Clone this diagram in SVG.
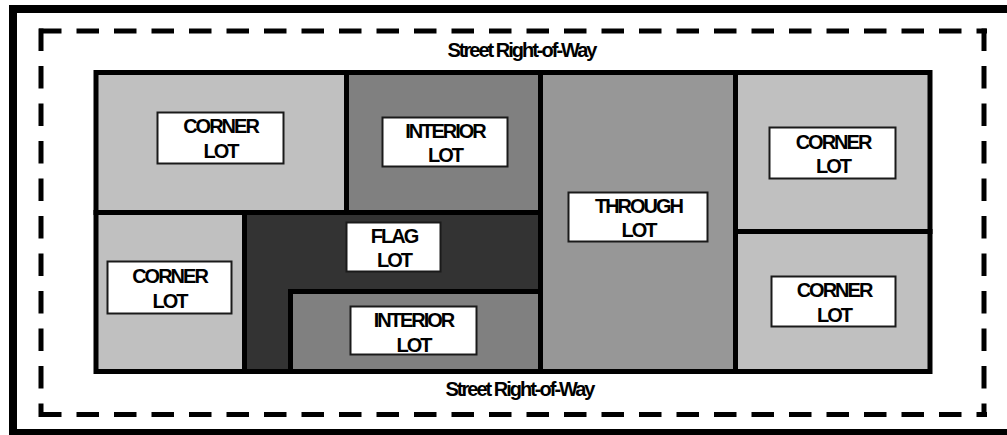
<svg xmlns="http://www.w3.org/2000/svg" width="1007" height="435" viewBox="0 0 1007 435">
<style>
.lot{stroke:#000;stroke-width:5;stroke-linejoin:miter}
.corner{fill:#c0c0c0}
.interior{fill:#808080}
.through{fill:#979797}
.flag{fill:#333333}
.box{fill:#fff;stroke:#1a1a1a;stroke-width:2}
.lbl{font-family:"Liberation Sans",Arial,sans-serif;font-weight:bold;font-size:20px;letter-spacing:-2px;fill:#000;text-anchor:middle}
.dash{stroke:#000;stroke-width:5;fill:none;stroke-dasharray:22.5 15}
</style>
<rect x="0" y="0" width="1007" height="435" fill="#fff"/>
<rect x="13" y="9" width="1010" height="424" fill="none" stroke="#000" stroke-width="8"/>
<g id="right-of-way">
<line class="dash" x1="39" y1="31" x2="987" y2="31"/>
<line class="dash" x1="39" y1="414.5" x2="987" y2="414.5"/>
<line class="dash" x1="41" y1="28.5" x2="41" y2="417"/>
<line class="dash" x1="984" y1="28.5" x2="984" y2="417"/>
<text class="lbl" x="521.5" y="56.5">Street Right-of-Way</text>
<text class="lbl" x="519.5" y="396">Street Right-of-Way</text>
</g>
<g id="lot-corner-tl">
<rect class="lot corner" x="96" y="72.5" width="250.5" height="140"/>
<rect class="box" x="157.5" y="112.5" width="126" height="51"/>
<text class="lbl" x="220.5" y="133">CORNER</text>
<text class="lbl" x="220.5" y="158">LOT</text>
</g>
<g id="lot-interior-top">
<rect class="lot interior" x="346.5" y="72.5" width="194" height="140"/>
<rect class="box" x="382.5" y="117.5" width="125" height="49"/>
<text class="lbl" x="445" y="138">INTERIOR</text>
<text class="lbl" x="445" y="162">LOT</text>
</g>
<g id="lot-through">
<rect class="lot through" x="540.5" y="72.5" width="195" height="299"/>
<rect class="box" x="568.5" y="192.5" width="139" height="49"/>
<text class="lbl" x="638.5" y="213">THROUGH</text>
<text class="lbl" x="638.5" y="237">LOT</text>
</g>
<g id="lot-corner-tr">
<rect class="lot corner" x="735.5" y="72.5" width="194.5" height="159"/>
<rect class="box" x="769.5" y="127.5" width="126" height="51"/>
<text class="lbl" x="833" y="149">CORNER</text>
<text class="lbl" x="833" y="173">LOT</text>
</g>
<g id="lot-corner-br">
<rect class="lot corner" x="735.5" y="231.5" width="194.5" height="140"/>
<rect class="box" x="771.5" y="276.5" width="124" height="50"/>
<text class="lbl" x="834" y="297">CORNER</text>
<text class="lbl" x="834" y="322">LOT</text>
</g>
<g id="lot-corner-bl">
<rect class="lot corner" x="96" y="212.5" width="148.5" height="159"/>
<rect class="box" x="107.5" y="261.5" width="124" height="52"/>
<text class="lbl" x="169.5" y="283">CORNER</text>
<text class="lbl" x="169.5" y="308">LOT</text>
</g>
<g id="lot-flag">
<polygon class="lot flag" points="244.5,212.5 540.5,212.5 540.5,291.5 290.5,291.5 290.5,371.5 244.5,371.5"/>
<rect class="box" x="346.5" y="222.5" width="94" height="49"/>
<text class="lbl" x="394" y="243">FLAG</text>
<text class="lbl" x="394" y="267">LOT</text>
</g>
<g id="lot-interior-bottom">
<rect class="lot interior" x="290.5" y="291.5" width="250" height="80"/>
<rect class="box" x="350.5" y="306.5" width="126" height="48"/>
<text class="lbl" x="413.5" y="327">INTERIOR</text>
<text class="lbl" x="413.5" y="352">LOT</text>
</g>
<g id="connectors"/>
</svg>
